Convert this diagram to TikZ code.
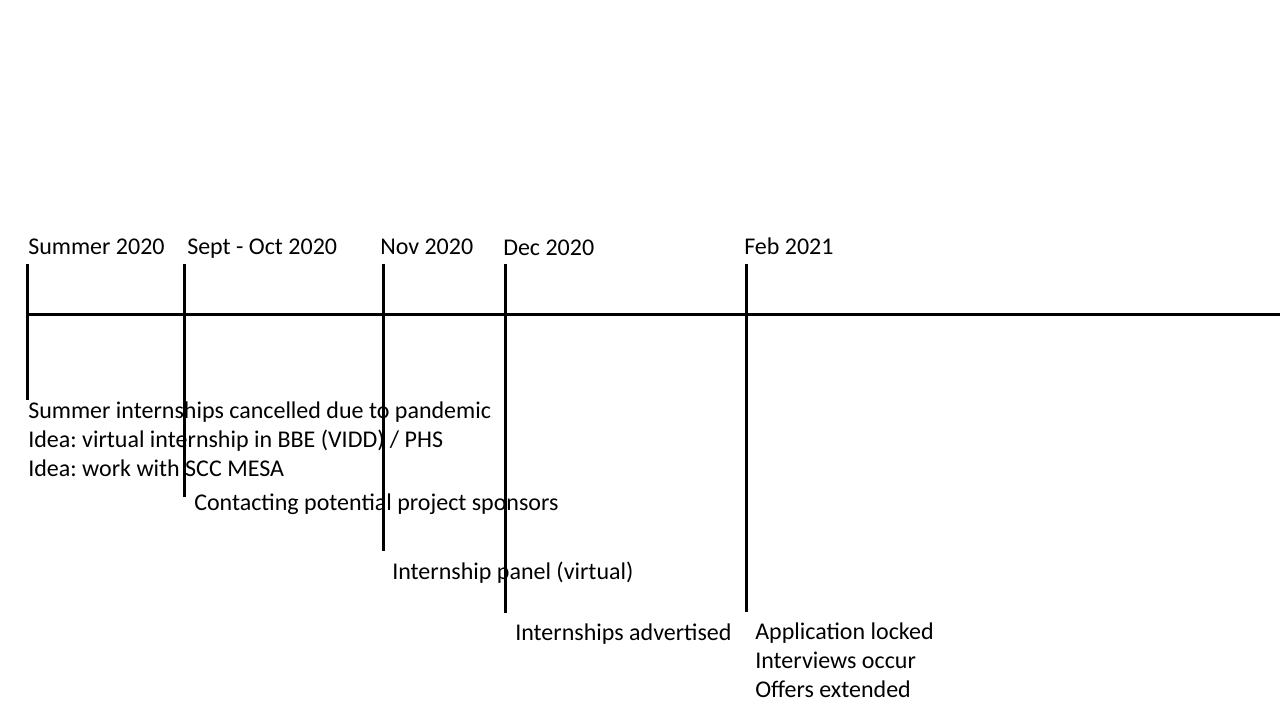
\documentclass[tikz,border=0pt]{standalone}
\usepackage{fontspec}
\setmainfont{Carlito}
\frenchspacing
\begin{document}
\begin{tikzpicture}[x=0.75pt,y=-0.75pt,
  axis/.style={line width=2.25pt},
  tickline/.style={line width=2.25pt},
  lbl/.style={anchor=base west,inner sep=0pt,align=left,
    font=\fontsize{18}{21.6}\selectfont}]
\useasboundingbox[fill=white] (0,0) rectangle (1280,720);
% axis
\coordinate (a0) at (27,314);
\coordinate (a1) at (1280,314);
\draw[axis] (a0) -- (a1);
% ticks
\coordinate (t1) at (27,264);  \coordinate (b1) at (27,400);
\coordinate (t2) at (184,264); \coordinate (b2) at (184,497);
\coordinate (t3) at (383,264); \coordinate (b3) at (383,551);
\coordinate (t4) at (505,264); \coordinate (b4) at (505,613);
\coordinate (t5) at (746,264); \coordinate (b5) at (746,612);
\foreach \i in {1,...,5} {\draw[tickline] (t\i) -- (b\i);}
% top labels
\node[lbl] (l1) at (28,254) {Summer 2020};
\node[lbl] (l2) at (187,254) {Sept - Oct 2020};
\node[lbl] (l3) at (380,254) {Nov 2020};
\node[lbl] (l4) at (503,255) {Dec 2020};
\node[lbl] (l5) at (744,254) {Feb 2021};
% bottom texts
\node[lbl] (d1) at (28,476) {Summer internships cancelled due to pandemic\\Idea: virtual internship in BBE (VIDD) / PHS\\Idea: work with SCC MESA};
\node[lbl] (d2) at (194,510) {Contacting potential project sponsors};
\node[lbl] (d3) at (392,579) {Internship panel (virtual)};
\node[lbl] (d4) at (515,640) {Internships advertised};
\node[lbl] (d5) at (755,697) {Application locked\\Interviews occur\\Offers extended};
\end{tikzpicture}
\end{document}
